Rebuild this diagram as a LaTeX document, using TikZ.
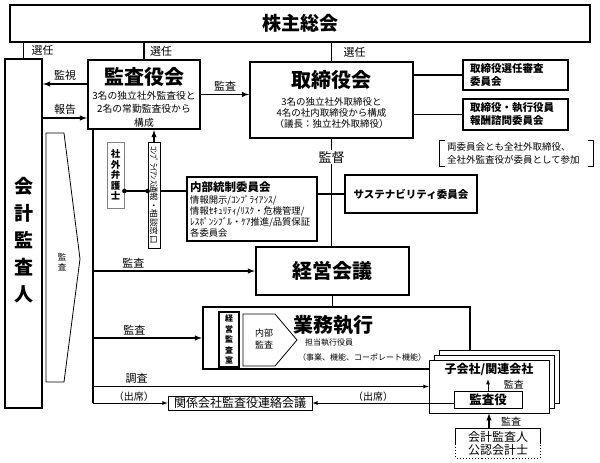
\documentclass[tikz,border=0pt]{standalone}
\usepackage{fontspec}
\setmainfont{Noto Sans CJK JP}
\newcommand\fsz[2]{\fontsize{#1}{#2}\selectfont}
\tikzset{
	bigbox/.style={draw, line width=2.2pt, fill=white, inner sep=0pt},
	midbox/.style={draw, line width=1.6pt, fill=white, inner sep=0pt},
	thinbox/.style={draw, line width=0.8pt, fill=white, inner sep=0pt},
	conn/.style={line width=1.4pt},
	thinconn/.style={line width=0.8pt},
	lbl/.style={font=\fsz{11}{11}, inner sep=1.5pt},
}

\begin{document}
\begin{tikzpicture}[x=1pt,y=-1pt]
	\useasboundingbox (0,0) rectangle (600,463);

	% upper part
	\node[bigbox, minimum width=580pt, minimum height=37pt, font=\fsz{19}{19}\bfseries] (soukai) at (300,23.5) {株主総会};
	\node[bigbox, minimum width=37pt, minimum height=349pt] (kaikei) at (23.5,233.5) {};
	\node[font=\fsz{19}{27}\bfseries, align=center] (kaikeitxt) at (23.5,240) {会\\計\\監\\査\\人};

	\node[bigbox, minimum width=112pt, minimum height=69pt] (kansa) at (144,94.5) {};
	\node[font=\fsz{20}{20}\bfseries] (kansattl) at (144,77) {監査役会};
	\node[font=\fsz{9.8}{13.5}, align=center] (kansasub) at (144,109) {3名の独立社外監査役と\\2名の常勤監査役から\\構成};

	\node[bigbox, minimum width=163pt, minimum height=76pt] (tori) at (331.5,100) {};
	\node[font=\fsz{20}{20}\bfseries] (torittl) at (331.5,80) {取締役会};
	\node[font=\fsz{9.5}{11}, align=center] (torisub) at (331.5,113) {3名の独立社外取締役と\\4名の社内取締役から構成\\（議長：独立社外取締役）};

	\node[midbox, minimum width=105pt, minimum height=30pt, text width=91pt, inner xsep=7pt, align=left, font=\fsz{10.5}{13}\bfseries] (senin) at (515.5,75) {取締役選任審査\\委員会};
	\node[midbox, minimum width=105pt, minimum height=31pt, text width=91pt, inner xsep=7pt, align=left, font=\fsz{10.5}{13}\bfseries] (houshu) at (515.5,114.5) {取締役・執行役員\\報酬諮問委員会};
	\draw[conn] (senin.west) -- (senin.west -| tori.east);
	\draw[conn] (houshu.west) -- (houshu.west -| tori.east);

	\node[minimum width=153pt, minimum height=25pt, text width=139pt, inner xsep=7pt, inner ysep=0pt, align=left, font=\fsz{9.5}{12.5}] (note) at (516.5,153.5) {両委員会とも全社外取締役、\\全社外監査役が委員として参加};
	\draw[thinconn] ([xshift=5pt]note.north west) -- (note.north west) -- (note.south west) -- ([xshift=5pt]note.south west);
	\draw[thinconn] ([xshift=-5pt]note.north east) -- (note.north east) -- (note.south east) -- ([xshift=-5pt]note.south east);

	\draw[conn] (kaikei.north) -- (kaikei.north |- soukai.south) node[lbl, midway, right=6pt] {選任};
	\draw[conn] (kansa.north) -- (kansa.north |- soukai.south) node[lbl, midway, right=4pt] {選任};
	\draw[conn] (tori.north) -- (tori.north |- soukai.south) node[lbl, midway, right=10pt] {選任};

	\coordinate (kanshi) at ([yshift=10.5pt]kansa.west);
	\coordinate (houkoku) at ([yshift=-23.5pt]kansa.west);
	\draw[conn, -latex] (kanshi) -- (kanshi -| kaikei.east) node[lbl, midway, above=1pt] {監視};
	\draw[conn, -latex] (houkoku -| kaikei.east) -- (houkoku) node[lbl, midway, above=1pt] {報告};
	\draw[conn, -latex] (kansa.east) -- (kansa.east -| tori.west) node[lbl, midway, above=1pt] {監査};

	% middle part
	\node[bigbox, minimum width=153pt, minimum height=48pt, font=\fsz{20}{20}\bfseries] (keiei) at (332.5,271) {経営会議};
	\draw[conn] (tori.south) -- (tori.south |- keiei.north) node[pos=0.17, fill=white, font=\fsz{13}{13}, inner sep=1pt] {監督};

	\node[midbox, minimum width=130pt, minimum height=64pt] (naibu) at (252,209) {};
	\node[anchor=west, font=\fsz{11.5}{11.5}\bfseries, inner sep=0pt] (naibuttl) at (190,187) {内部統制委員会};
	\node[anchor=north west, font=\fsz{9.3}{11}, align=left, inner sep=0pt] (naibusub) at (190,195.5) {情報開示/ｺﾝﾌﾟﾗｲｱﾝｽ/\\情報ｾｷｭﾘﾃｨ/ﾘｽｸ・危機管理/\\ﾚｽﾎﾟﾝｼﾌﾞﾙ・ｹｱ推進/品質保証\\各委員会};
	\node[midbox, minimum width=132pt, minimum height=38pt, font=\fsz{10.5}{10.5}\bfseries] (sustain) at (411,194) {サステナビリティ委員会};
	\draw[conn] (sustain.west) -- (sustain.west -| naibu.east);

	\node[thinbox, rotate=-90, minimum width=106pt, minimum height=12pt, font=\fsz{8.5}{8.5}] (comp) at (154,195) {ｺﾝﾌﾟﾗｲｱﾝｽ通報・相談窓口};
	\draw[conn, -latex] (comp.west) -- (comp.west |- kansa.south);
	\node[thinbox, draw=gray, minimum width=17pt, minimum height=66pt, align=center, font=\fsz{9.5}{10.5}\bfseries] (bengo) at (115.5,175) {社\\外\\弁\\護\\士};
	\coordinate (tsuho) at (136,191);
	\draw[conn] (tsuho -| bengo.east) -- (tsuho -| comp.south);
	\fill (tsuho -| bengo.east) circle (2.3pt);
	\fill (tsuho -| comp.south) circle (2.3pt);
	\draw[conn] (tsuho -| comp.north) -- (tsuho -| naibu.west);

	% chevron
	\draw[thinconn] (46,133) -- (64,133) -- (80,259) -- (64,382) -- (46,382) -- cycle;
	\node[font=\fsz{8.5}{10}, align=center] (chevtxt) at (62,262) {監\\査};

	% lower part
	\node[bigbox, minimum width=267pt, minimum height=62pt] (gyomu) at (336.5,338) {};
	\draw[conn] (keiei.south) -- (keiei.south |- gyomu.north);
	\node[draw, line width=1.2pt, fill=white, inner sep=0pt, minimum width=20pt, minimum height=55pt, align=center, font=\fsz{8}{10.5}\bfseries] (keieikansa) at (229,339.5) {経\\営\\監\\査\\室};
	\draw[thinconn] (243,314) -- (275,314) -- (297,340) -- (275,366) -- (243,366) -- cycle;
	\node[font=\fsz{9}{12}, align=center] (naibukansa) at (264,339) {内部\\監査};
	\node[font=\fsz{20}{20}\bfseries] (gyomuttl) at (333,325) {業務執行};
	\node[anchor=west, font=\fsz{8}{8}, inner sep=0pt] (tanto) at (305,342.5) {担当執行役員};
	\node[font=\fsz{8}{8}, inner sep=0pt] (jigyo) at (362,357) {（事業、機能、コーポレート機能）};

	\node[thinbox, minimum width=120pt, minimum height=53pt] (stack2) at (499,376.5) {};
	\node[thinbox, minimum width=120pt, minimum height=53pt] (stack1) at (494,381.5) {};
	\node[thinbox, minimum width=120pt, minimum height=53pt] (kogaisha) at (489,386.5) {};
	\node[font=\fsz{12}{12}\bfseries] (kogaishatxt) at (489,369.5) {子会社/関連会社};
	\node[thinbox, minimum width=68pt, minimum height=17pt, font=\fsz{12.5}{12.5}\bfseries] (kansayaku) at (488,399.5) {監査役};
	\draw[thinconn, -latex] (kansayaku.north) -- (kansayaku.north |- kogaishatxt.south) node[lbl, midway, right=14pt, font=\fsz{10}{10}] {監査};

	\node[thinbox, minimum width=144pt, minimum height=14pt, font=\fsz{12}{12}] (kankei) at (240,403) {関係会社監査役連絡会議};

	\coordinate (ltop) at ([xshift=6pt]kansa.south west);
	\draw[conn] (ltop) -- (ltop |- kankei.west);
	\draw[conn, -latex] (ltop |- keiei.west) -- (keiei.west) node[lbl, pos=0.25, above=1pt] {監査};
	\draw[conn, -latex] (ltop |- gyomu.west) -- (gyomu.west) node[lbl, pos=0.38, above=1pt] {監査};
	\draw[thinconn, -latex] (ltop |- kogaisha.west) -- (kogaisha.west) node[lbl, pos=0.13, above=1pt] {調査};
	\draw[thinconn, -latex] (ltop |- kankei.west) -- (kankei.west) node[lbl, pos=0.55, above=0pt, font=\fsz{10}{10}] {（出席）};
	\draw[thinconn, -latex] (kansayaku.west |- kankei.east) -- (kankei.east) node[lbl, pos=0.57, above=0pt, font=\fsz{10}{10}] {（出席）};

	\node[minimum width=84pt, minimum height=29pt, inner sep=0pt, align=center, font=\fsz{12}{12.5}] (koukai) at (498,443.5) {会計監査人\\公認会計士};
	\draw[line width=1.1pt] (koukai.west) |- (koukai.north) -| (koukai.east);
	\draw[line width=1.1pt, dotted] (koukai.west) |- (koukai.south) -| (koukai.east);
	\draw[conn, -latex] (koukai.north -| kogaisha.south) -- (kogaisha.south) node[lbl, midway, right=10pt, font=\fsz{10}{10}] {監査};
\end{tikzpicture}
\end{document}
